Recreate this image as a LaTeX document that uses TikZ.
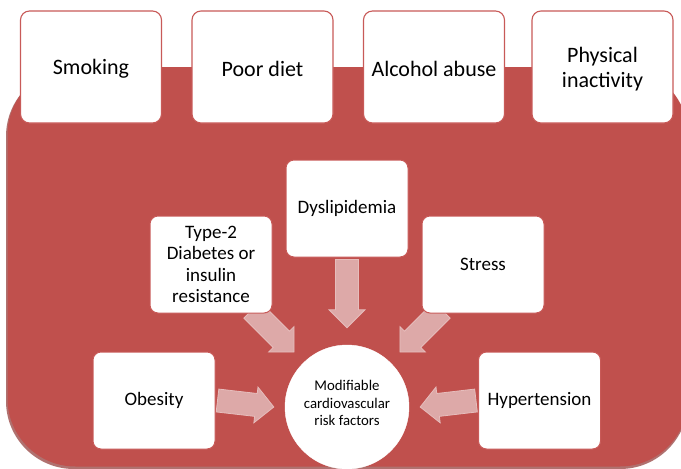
\documentclass[tikz,border=0pt]{standalone}
\usepackage{fontspec}
\setmainfont{Carlito}
\usetikzlibrary{calc}
\definecolor{bigred}{HTML}{C0504D}
\definecolor{edgered}{HTML}{8E3431}
\definecolor{boxline}{HTML}{C85A58}
\definecolor{arrowfill}{HTML}{DDA9A8}
\definecolor{arrowline}{HTML}{E6BDBC}
\pgfdeclarelayer{backdrop}
\pgfdeclarelayer{arrowlayer}
\pgfsetlayers{backdrop,arrowlayer,main}
\tikzset{
  topbox/.style={draw=boxline, line width=1.1pt, fill=white, rounded corners=9pt,
    minimum width=141pt, minimum height=112pt, inner sep=2pt, align=center,
    font=\fontsize{22}{25}\selectfont},
  toptext/.style={align=center, font=\fontsize{22}{25}\selectfont, yshift=-2pt, inner sep=0pt},
  innerbox/.style={draw=boxline, line width=1pt, fill=white, rounded corners=8pt,
    minimum width=122pt, minimum height=97pt, inner sep=2pt, align=center,
    font=\fontsize{19}{21.4}\selectfont},
  hub/.style={circle, fill=white, draw=white, minimum size=124pt, inner sep=0pt},
  hubtext/.style={align=center, font=\fontsize{14.8}{17.2}\selectfont, yshift=4pt, inner sep=0pt},
  blockarr/.style={fill=arrowfill, draw=arrowline, line width=0.8pt, line join=miter}
}
\newcommand\blockarrow[2]{%
  \path[blockarr]
    ($(#1)!11.5pt!90:(#2)$) --
    ($($(#2)!18pt!(#1)$)!11.5pt!90:(#2)$) --
    ($($(#2)!18pt!(#1)$)!18pt!90:(#2)$) --
    (#2) --
    ($($(#2)!18pt!(#1)$)!18pt!-90:(#2)$) --
    ($($(#2)!18pt!(#1)$)!11.5pt!-90:(#2)$) --
    ($(#1)!11.5pt!-90:(#2)$) -- cycle;}
\begin{document}
\begin{tikzpicture}[x=1pt, y=-1pt]
\useasboundingbox (0,0) rectangle (681,469);
\begin{pgfonlayer}{backdrop}
\fill[white] (0,0) rectangle (681,469);
\fill[edgered!70, rounded corners=68pt] (6,68.5) rectangle (688,469);
\fill[bigred, rounded corners=68pt] (7.5,67) rectangle (688,466.5);
\end{pgfonlayer}

% hub
\node[hub, label={[hubtext]center:{Modifiable\\cardiovascular\\risk factors}}] (rf) at (347,407) {};

% inner boxes
\node[innerbox] (t2) at (211,264.5) {Type-2\\Diabetes or\\insulin\\resistance};
\node[innerbox] (dy) at (347,208.5) {Dyslipidemia};
\node[innerbox] (st) at (483,264.5) {Stress};
\node[innerbox] (ob) at (154,400.5) {Obesity};
\node[innerbox] (hy) at (539.5,400.5) {Hypertension};

% arrow end points
\coordinate (obS) at ($(ob.east)+(2,0)$);
\coordinate (obT) at ($(rf.west)+(-11,0)$);
\coordinate (hyS) at ($(hy.west)+(-2,0)$);
\coordinate (hyT) at ($(rf.east)+(11,0)$);
\coordinate (dyS) at ($(dy.south)+(0,2)$);
\coordinate (dyT) at ($(rf.north)+(0,-17)$);
\coordinate (t2T) at ($(rf.north west)+(-9,-11)$);
\coordinate (t2S) at ($(t2T)+(-42,-42)$);
\coordinate (stT) at ($(rf.north east)+(9,-11)$);
\coordinate (stS) at ($(stT)+(42,-42)$);

\begin{pgfonlayer}{arrowlayer}
\blockarrow{obS}{obT}
\blockarrow{hyS}{hyT}
\blockarrow{dyS}{dyT}
\blockarrow{t2S}{t2T}
\blockarrow{stS}{stT}
\end{pgfonlayer}

% top boxes
\node[topbox, label={[toptext]center:Smoking}] (sm) at (91,67) {};
\node[topbox, label={[toptext]center:Poor diet}] (pd) at (262.5,67) {};
\node[topbox, label={[toptext]center:Alcohol abuse}] (aa) at (434,67) {};
\node[topbox, label={[toptext]center:{Physical\\inactivity}}] (pi) at (602.5,67) {};
\end{tikzpicture}
\end{document}
